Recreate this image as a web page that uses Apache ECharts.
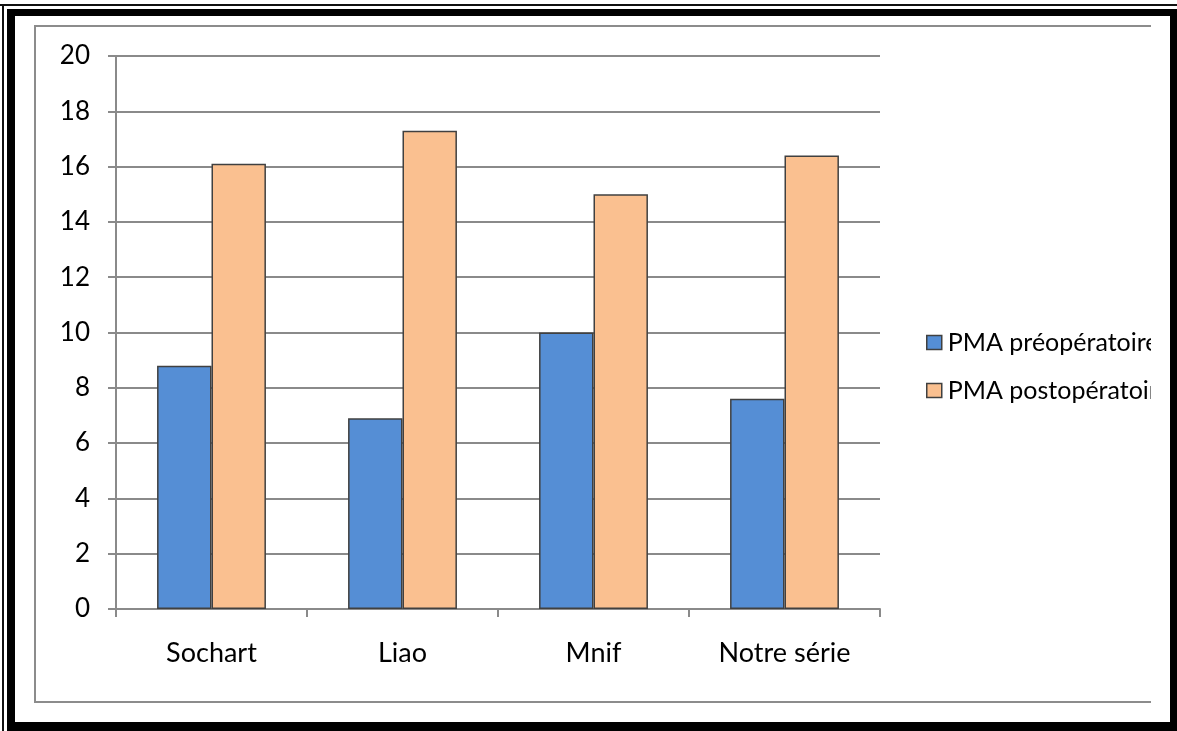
<!DOCTYPE html>
<html>
<head>
<meta charset="utf-8">
<script src="https://cdn.jsdelivr.net/npm/echarts@6/dist/echarts.min.js"></script>
<style>
  html, body { margin: 0; padding: 0; background: #ffffff; }
  #chart { width: 1177px; height: 731px; }
</style>
</head>
<body>
<div id="chart"></div>
<script>
// Categories and values (PMA before and after surgery, per study)
const categories = ['Sochart', 'Liao', 'Mnif', 'Notre série'];
const seriesNames = ['PMA préopératoire', 'PMA postopératoire'];
const preOp = [8.8, 6.9, 10, 7.6];
const postOp = [16.1, 17.3, 15, 16.4];
const yTicks = { min: 0, max: 20, interval: 2 };

const FONT = 'Lato, "Liberation Sans", sans-serif';
const GRID_GRAY = '#8a8a8a';
const BAR_EDGE = '#404040';

const chart = echarts.init(document.getElementById('chart'), null, { renderer: 'canvas' });

// Double black frame plus the thin gray chart-area border
const frame = [
  // thin outer lines
  { type: 'rect', shape: { x: 0, y: 4, width: 1177, height: 2 }, style: { fill: '#111' } },
  { type: 'rect', shape: { x: 2, y: 4, width: 2, height: 727 }, style: { fill: '#111' } },
  // thick black frame
  { type: 'rect', shape: { x: 7, y: 9, width: 1170, height: 7 }, style: { fill: '#000' } },
  { type: 'rect', shape: { x: 7, y: 9, width: 8, height: 722 }, style: { fill: '#000' } },
  { type: 'rect', shape: { x: 1170, y: 9, width: 7, height: 722 }, style: { fill: '#000' } },
  { type: 'rect', shape: { x: 7, y: 722, width: 1170, height: 9 }, style: { fill: '#000' } },
  // white strip that cuts the chart area off on the right
  { type: 'rect', shape: { x: 1151, y: 16, width: 19, height: 706 }, style: { fill: '#fff' } },
  // gray chart-area border (top, left, bottom)
  { type: 'rect', shape: { x: 34, y: 25, width: 1117, height: 2 }, style: { fill: '#8c8c8c' } },
  { type: 'rect', shape: { x: 34, y: 25, width: 2, height: 678 }, style: { fill: '#8c8c8c' } },
  { type: 'rect', shape: { x: 34, y: 701, width: 1117, height: 2 }, style: { fill: '#8c8c8c' } }
];

const option = {
  backgroundColor: '#ffffff',
  animation: false,
  textStyle: { fontFamily: FONT },
  graphic: { elements: frame.map(e => Object.assign({ z: 100, silent: true }, e)) },
  grid: { left: 116, right: 297, top: 56, bottom: 122, containLabel: false },
  legend: {
    orient: 'vertical',
    left: 921,
    top: 325,
    itemWidth: 15,
    itemHeight: 14,
    itemGap: 23,
    icon: 'rect',
    data: seriesNames,
    itemStyle: { borderColor: BAR_EDGE, borderWidth: 1.5 },
    textStyle: { fontFamily: FONT, fontSize: 25, lineHeight: 25, color: '#000', padding: [0, 0, 0, 1] }
  },
  xAxis: {
    type: 'category',
    data: categories,
    boundaryGap: true,
    axisLine: { show: true, lineStyle: { color: GRID_GRAY, width: 2 } },
    axisTick: { show: true, length: 8, alignWithLabel: false, lineStyle: { color: GRID_GRAY, width: 2 } },
    axisLabel: { fontFamily: FONT, fontSize: 27, color: '#000', margin: 31 }
  },
  yAxis: {
    type: 'value',
    min: yTicks.min,
    max: yTicks.max,
    interval: yTicks.interval,
    axisLine: { show: true, lineStyle: { color: GRID_GRAY, width: 2 } },
    axisTick: { show: true, length: 8, lineStyle: { color: GRID_GRAY, width: 2 } },
    splitLine: { show: true, lineStyle: { color: GRID_GRAY, width: 2 } },
    axisLabel: { fontFamily: FONT, fontSize: 26, color: '#000', margin: 26 }
  },
  series: [
    {
      name: seriesNames[0],
      type: 'bar',
      data: preOp,
      barGap: '0%',
      barCategoryGap: '43%',
      itemStyle: { color: '#558ED5', borderColor: BAR_EDGE, borderWidth: 1.5 }
    },
    {
      name: seriesNames[1],
      type: 'bar',
      data: postOp,
      barGap: '0%',
      barCategoryGap: '43%',
      itemStyle: { color: '#FAC090', borderColor: BAR_EDGE, borderWidth: 1.5 }
    }
  ]
};

chart.setOption(option);
</script>
</body>
</html>
